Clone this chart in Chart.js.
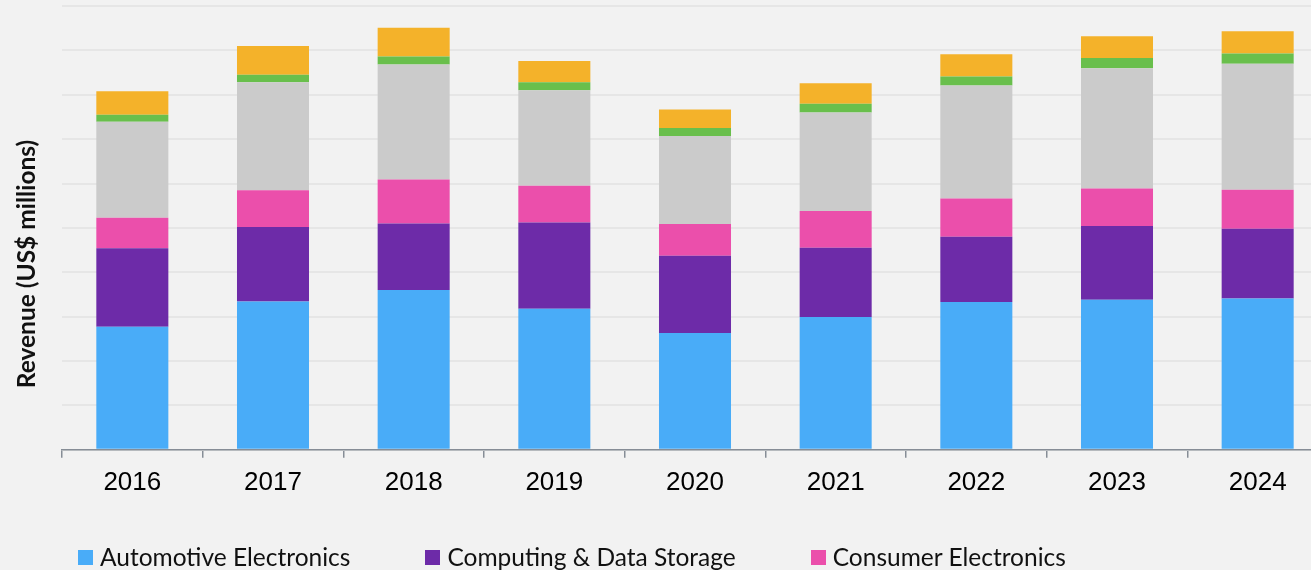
<!DOCTYPE html>
<html>
<head>
<meta charset="utf-8">
<script src="https://cdn.jsdelivr.net/npm/chart.js@4/dist/chart.umd.min.js"></script>
<style>
  html, body { margin: 0; padding: 0; background: #f2f2f2; overflow: hidden; width: 1311px; height: 570px; }
  #wrap { position: absolute; left: 0; top: 0; width: 1330px; height: 570px; }
  #legend { position: absolute; left: 78px; top: 542px; display: flex; flex-wrap: wrap; width: 1200px;
            font-family: Lato, "Open Sans", sans-serif; font-size: 24.5px; line-height: 30px; color: #111; column-gap: 75px; row-gap: 10px; }
  .li { display: flex; align-items: center; white-space: nowrap; }
  .sw { width: 15px; height: 15px; margin-right: 7px; }
</style>
</head>
<body>
<div id="wrap"><canvas id="c" width="1330" height="570"></canvas></div>
<div id="legend"></div>
<script>
const years = ["2016","2017","2018","2019","2020","2021","2022","2023","2024"];
const automotive = [277, 334, 360, 318, 263, 299, 333, 338, 341];
const computing  = [177, 168, 150, 194, 174, 156, 147, 166, 157];
const consumer   = [69, 83, 99, 83, 72, 83, 86, 85, 88];
const industrial = [216, 243, 259, 215, 198, 222, 255, 271, 284];
const telecom    = [16, 17, 18, 18, 18, 20, 20, 23, 23];
const other      = [53, 65, 65, 48, 42, 46, 50, 49, 50];
const seriesNames = ["Automotive Electronics", "Computing & Data Storage", "Consumer Electronics",
                     "Industrial & Medical", "Communications", "Other"];
const seriesColors = ["#49acf8", "#6d2ba8", "#eb4fab", "#cbcbcb", "#69bf4c", "#f4b22a"];
const seriesData = [automotive, computing, consumer, industrial, telecom, other];
const yTitle = "Revenue (US$ millions)";

const yTitlePlugin = {
  id: 'yTitle',
  afterDraw(chart) {
    const ctx = chart.ctx;
    ctx.save();
    ctx.translate(27.5, 264);
    ctx.rotate(-Math.PI / 2);
    ctx.font = "bold 24.5px Lato, 'Open Sans', sans-serif";
    ctx.fillStyle = "#111";
    ctx.textAlign = "center";
    ctx.textBaseline = "middle";
    ctx.fillText(yTitle, 0, 0);
    ctx.restore();
  }
};

const chart = new Chart(document.getElementById('c'), {
  type: 'bar',
  data: {
    labels: years,
    datasets: seriesData.map((d, i) => ({
      label: seriesNames[i],
      data: d,
      backgroundColor: seriesColors[i],
      borderWidth: 0,
      barPercentage: 0.512,
      categoryPercentage: 1.0
    }))
  },
  options: {
    responsive: false,
    animation: false,
    devicePixelRatio: 1,
    layout: { padding: { left: 62, top: 6, right: 2, bottom: 63 } },
    plugins: { legend: { display: false }, tooltip: { enabled: false } },
    scales: {
      x: {
        stacked: true,
        grid: { display: true, drawOnChartArea: false, drawTicks: true, tickLength: 8, color: '#868d96', lineWidth: 1.5 },
        border: { display: true, color: '#868d96', width: 1.5 },
        ticks: { color: '#000', font: { family: "'Liberation Sans', Arial, sans-serif", size: 26 }, padding: 9 }
      },
      y: {
        stacked: true,
        min: 0, max: 1000,
        ticks: { display: false, stepSize: 100 },
        border: { display: false },
        grid: { color: '#e6e6e6', lineWidth: 2, drawTicks: false }
      }
    }
  },
  plugins: [yTitlePlugin]
});

const legend = document.getElementById('legend');
chart.data.datasets.forEach(ds => {
  const item = document.createElement('div');
  item.className = 'li';
  const sw = document.createElement('span');
  sw.className = 'sw';
  sw.style.background = ds.backgroundColor;
  const tx = document.createElement('span');
  tx.textContent = ds.label;
  item.appendChild(sw);
  item.appendChild(tx);
  legend.appendChild(item);
});
</script>
</body>
</html>
